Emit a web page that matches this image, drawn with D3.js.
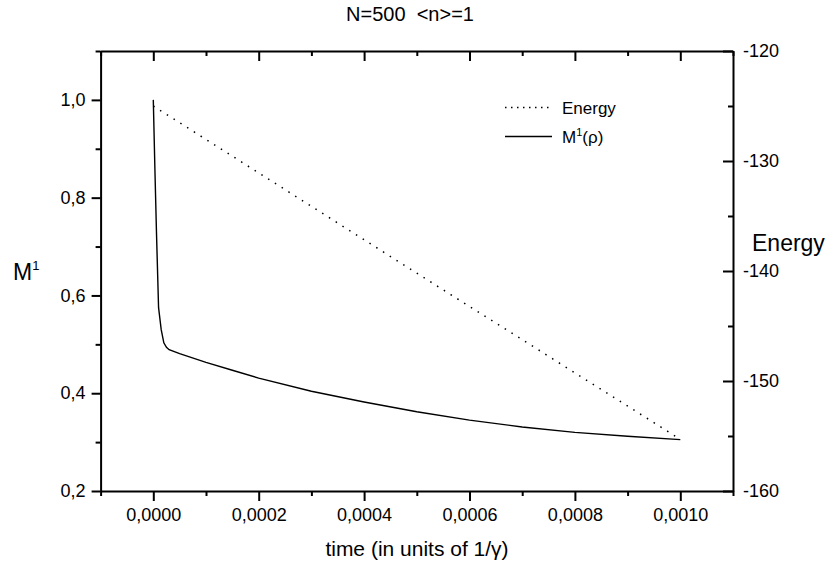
<!DOCTYPE html>
<html><head><meta charset="utf-8">
<script src="https://cdn.jsdelivr.net/npm/d3@7"></script>
<style>body{margin:0;background:#fff}svg{display:block}text{font-family:"Liberation Sans",Arial,sans-serif;fill:#000}</style>
</head><body><svg id="c" width="834" height="570"></svg>
<script>
// data
const timeM = [0, 0.000003, 0.000006, 0.00001, 0.000015, 0.00002, 0.000025, 0.00003, 0.00005, 0.0001, 0.00015, 0.0002, 0.0003, 0.0004, 0.0005, 0.0006, 0.0007, 0.0008, 0.0009, 0.001];
const valM  = [1.0, 0.86, 0.73, 0.575, 0.53, 0.503, 0.494, 0.489, 0.481, 0.463, 0.447, 0.431, 0.404, 0.382, 0.362, 0.345, 0.331, 0.320, 0.312, 0.305];
const timeE = [0, 0.0005, 0.001];
const valE  = [-125.0, -140.2, -155.3];
const xTicks = [0, 0.0002, 0.0004, 0.0006, 0.0008, 0.0010];
const xMinor = [-0.0001, 0.0001, 0.0003, 0.0005, 0.0007, 0.0009, 0.0011];
const yTicks = [0.2, 0.4, 0.6, 0.8, 1.0];
const yMinor = [0.3, 0.5, 0.7, 0.9, 1.1];
const eTicks = [-160, -150, -140, -130, -120];
const eMinor = [-155, -145, -135, -125];
const title = "N=500  <n>=1";

const svg = d3.select("#c");
const L = 100.6, R = 733, T = 51, B = 491;
const x = d3.scaleLinear().domain([-0.0001, 0.0011]).range([L, R]);
const y = d3.scaleLinear().domain([0.2, 1.1]).range([B, T]);
const ye = d3.scaleLinear().domain([-160, -120]).range([B, T]);
const fmt = (d, n) => d3.format("." + n + "f")(d).replace(".", ",");
const TF = "18px";

function styleAxis(g){ g.select(".domain").attr("stroke", "#000").attr("stroke-width", 2);
  g.selectAll(".tick line").attr("stroke", "#000").attr("stroke-width", 2);
  g.selectAll("text").style("font-size", TF).attr("fill", "#000"); }
function minor(g){ g.select(".domain").remove(); g.selectAll("line").attr("stroke", "#000").attr("stroke-width", 2); }

// bottom axis
const gb = svg.append("g").attr("transform", `translate(0,${B})`);
gb.call(d3.axisBottom(x).tickValues(xTicks).tickSize(10).tickSizeOuter(0).tickPadding(7).tickFormat(d => fmt(d, 4)));
styleAxis(gb);
gb.append("g").call(d3.axisBottom(x).tickValues(xMinor).tickSize(5).tickSizeOuter(0).tickFormat("")).call(minor);
// top axis (ticks inward)
const gt = svg.append("g").attr("transform", `translate(0,${T})`);
gt.call(d3.axisBottom(x).tickValues(xTicks).tickSize(10).tickSizeOuter(0).tickFormat(""));
styleAxis(gt);
gt.append("g").call(d3.axisBottom(x).tickValues(xMinor).tickSize(5).tickSizeOuter(0).tickFormat("")).call(minor);
// left axis
const gl = svg.append("g").attr("transform", `translate(${L},0)`);
gl.call(d3.axisLeft(y).tickValues(yTicks).tickSize(9).tickSizeOuter(0).tickPadding(6).tickFormat(d => fmt(d, 1)));
styleAxis(gl);
gl.append("g").call(d3.axisLeft(y).tickValues(yMinor).tickSize(5).tickSizeOuter(0).tickFormat("")).call(minor);
// right axis (ticks inward, labels outside)
const gr = svg.append("g").attr("transform", `translate(${R},0)`);
gr.call(d3.axisLeft(ye).tickValues(eTicks).tickSize(10).tickSizeOuter(0).tickFormat(""));
styleAxis(gr);
gr.append("g").call(d3.axisLeft(ye).tickValues(eMinor).tickSize(5).tickSizeOuter(0).tickFormat("")).call(minor);
gr.append("g").attr("text-anchor", "start").selectAll("text").data(eTicks).join("text")
  .attr("x", 10).attr("y", d => ye(d)).attr("dy", "0.35em").style("font-size", TF).text(d => d);

// lines
const lineM = d3.line().x((d, i) => x(timeM[i])).y(d => y(d));
svg.append("path").attr("d", lineM(valM)).attr("fill", "none").attr("stroke", "#000").attr("stroke-width", 1.4);
const lineE = d3.line().x((d, i) => x(timeE[i])).y(d => ye(d));
svg.append("path").attr("d", lineE(valE)).attr("fill", "none").attr("stroke", "#000").attr("stroke-width", 1.5).attr("stroke-dasharray", "1.5,6.5");

// legend
const lg = svg.append("g");
lg.append("line").attr("x1", 505).attr("x2", 549).attr("y1", 107.5).attr("y2", 107.5).attr("stroke", "#000").attr("stroke-width", 1.5).attr("stroke-dasharray", "1.5,4.5");
lg.append("text").attr("x", 562).attr("y", 113.5).style("font-size", "17px").text("Energy");
lg.append("line").attr("x1", 505).attr("x2", 552).attr("y1", 136.5).attr("y2", 136.5).attr("stroke", "#000").attr("stroke-width", 1.4);
const mt = lg.append("text").attr("x", 562).attr("y", 143).style("font-size", "17px");
mt.append("tspan").text("M");
mt.append("tspan").attr("dy", -7).style("font-size", "11px").text("1");
mt.append("tspan").attr("dy", 7).text("(ρ)");

// titles
svg.append("text").attr("x", 410).attr("y", 21).attr("text-anchor", "middle").style("font-size", "20px").style("white-space", "pre").text(title);
svg.append("text").attr("x", 417).attr("y", 556).attr("text-anchor", "middle").style("font-size", "21px").text("time (in units of 1/γ)");
const yl = svg.append("text").attr("x", 13).attr("y", 280).style("font-size", "23px");
yl.append("tspan").text("M");
yl.append("tspan").attr("dy", -10).style("font-size", "13px").text("1");
svg.append("text").attr("x", 752).attr("y", 251).style("font-size", "23px").text("Energy");
</script></body></html>
